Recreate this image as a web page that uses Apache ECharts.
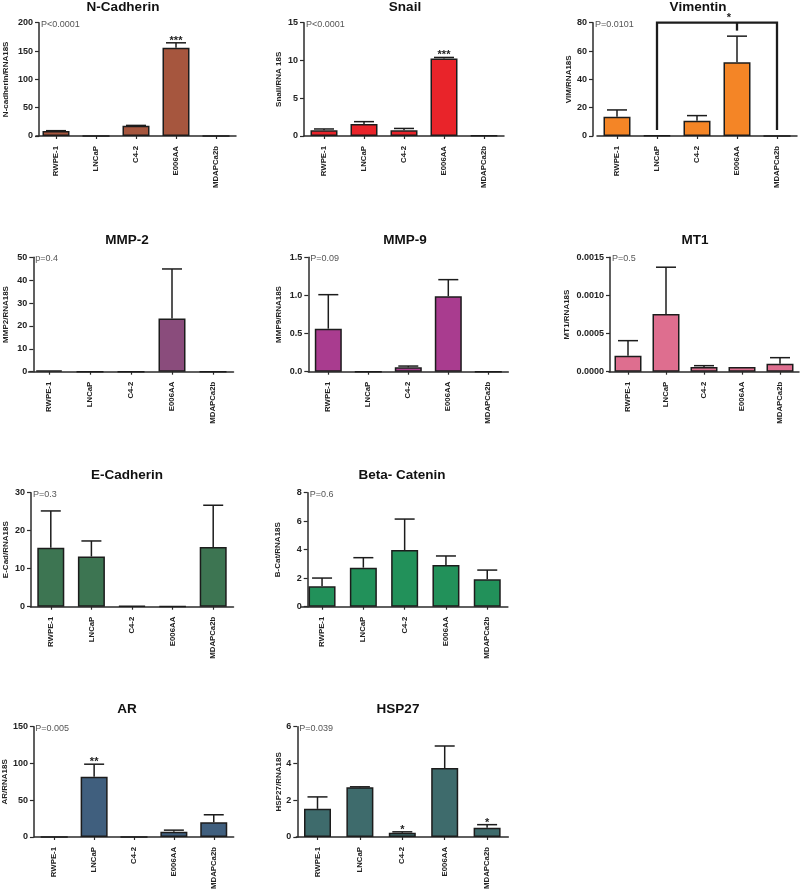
<!DOCTYPE html>
<html><head><meta charset="utf-8">
<script src="https://cdn.jsdelivr.net/npm/echarts@6/dist/echarts.min.js"></script>
<style>html,body{margin:0;padding:0;background:#fff}#c{width:800px;height:892px}</style>
</head><body><div id="c"></div>
<script>
const categories = ['RWPE-1', 'LNCaP', 'C4-2', 'E006AA', 'MDAPCa2b'];

const panelTitles = ['N-Cadherin', 'Snail', 'Vimentin', 'MMP-2', 'MMP-9', 'MT1', 'E-Cadherin', 'Beta- Catenin', 'AR', 'HSP27'];
const yAxisNames = ['N-cadherin/RNA18S', 'Snail/RNA 18S', 'VIM/RNA18S', 'MMP2/RNA18S', 'MMP9/RNA18S', 'MT1/RNA18S', 'E-Cad/RNA18S', 'B-Cat/RNA18S', 'AR/RNA18S', 'HSP27/RNA18S'];
const pValueTexts = ['P<0.0001', 'P<0.0001', 'P=0.0101', 'p=0.4', 'P=0.09', 'P=0.5', 'P=0.3', 'P=0.6', 'P=0.005', 'P=0.039'];
const yMaxValues = [200, 15, 80, 50, 1.5, 0.0015, 30, 8, 150, 6];
const yIntervals = [50, 5, 20, 10, 0.5, 0.0005, 10, 2, 50, 2];
const yDecimals = [0, 0, 0, 0, 1, 4, 0, 0, 0, 0];

const nCadherinMean = [8.8, 0, 18.2, 156, 0];
const nCadherinSem  = [0.6, 0, 0.5, 8.5, 0];
const snailMean = [0.75, 1.6, 0.75, 10.25, 0.05];
const snailSem  = [0.18, 0.3, 0.25, 0.15, 0];
const vimentinMean = [13.6, 0.3, 10.8, 52, 0];
const vimentinSem  = [4.8, 0, 3.6, 18.5, 0];
const mmp2Mean = [0.6, 0, 0, 23.2, 0];
const mmp2Sem  = [0, 0, 0, 21.7, 0];
const mmp9Mean = [0.564, 0, 0.057, 0.99, 0];
const mmp9Sem  = [0.446, 0, 0.017, 0.217, 0];
const mt1Mean = [0.00021, 0.000757, 0.000061, 0.000061, 0.000105];
const mt1Sem  = [0.000197, 0.000613, 0.000018, 0, 0.000079];
const eCadherinMean = [15.5, 13.2, 0.2, 0.1, 15.7];
const eCadherinSem  = [9.7, 4.1, 0, 0, 11];
const betaCateninMean = [1.43, 2.74, 3.98, 2.92, 1.92];
const betaCateninSem  = [0.58, 0.7, 2.17, 0.64, 0.65];
const arMean = [0, 82, 0, 7.1, 20];
const arSem  = [0, 17, 0, 2.2, 10.2];
const hsp27Mean = [1.53, 2.7, 0.23, 3.75, 0.5];
const hsp27Sem  = [0.65, 0.03, 0.05, 1.2, 0.17];

const nCadherinStars = ['', '', '', '***', ''];
const snailStars = ['', '', '', '***', ''];
const arStars = ['', '**', '', '', ''];
const hsp27Stars = ['', '', '*', '', '*'];
const noStars = ['', '', '', '', ''];

// Vimentin bracket: categories (left leg, middle leg, right leg) and levels (top, leg bottom, middle bottom, star)
const vimBracketCats = ['LNCaP', 'E006AA', 'MDAPCa2b'];
const vimBracketLevels = [80, 4.2, 74.4, 83];
const vimBracketStar = '*';

const barColors = ['#A6563E', '#E9242A', '#F48526', '#8A4C7C', '#A93C8F', '#DE6E8F', '#3D7552', '#22915A', '#405F7E', '#3E6B6C'];

const means = [nCadherinMean, snailMean, vimentinMean, mmp2Mean, mmp9Mean, mt1Mean, eCadherinMean, betaCateninMean, arMean, hsp27Mean];
const sems = [nCadherinSem, snailSem, vimentinSem, mmp2Sem, mmp9Sem, mt1Sem, eCadherinSem, betaCateninSem, arSem, hsp27Sem];
const stars = [nCadherinStars, snailStars, noStars, noStars, noStars, noStars, noStars, noStars, arStars, hsp27Stars];

// layout (pixels)
const layout = [
  {left: 36,    axisX: 39,    top: 22.7,  width: 200,   height: 113.3, nameGap: 29,   tx: 123, ty: 7.5},
  {left: 304,   axisX: 304,   top: 22.7,  width: 200,   height: 113.3, nameGap: 21.5, tx: 405, ty: 7.5},
  {left: 597,   axisX: 593,   top: 22.7,  width: 200,   height: 113.3, nameGap: 19.5, tx: 698, ty: 7.5},
  {left: 28.5,  axisX: 33.3,  top: 257.3, width: 205,   height: 114.4, nameGap: 23.5, tx: 127, ty: 240},
  {left: 308.3, axisX: 308.3, top: 257.3, width: 200,   height: 114.4, nameGap: 25.5, tx: 405, ty: 240},
  {left: 609,   axisX: 610,   top: 257.3, width: 190,   height: 114.4, nameGap: 39.5, tx: 695, ty: 240},
  {left: 30.5,  axisX: 31,    top: 492.7, width: 203,   height: 114,   nameGap: 21.5, tx: 127, ty: 475},
  {left: 301.4, axisX: 307.7, top: 492.7, width: 206.5, height: 114,   nameGap: 25.5, tx: 402, ty: 475},
  {left: 33.7,  axisX: 33.3,  top: 726.7, width: 200,   height: 112.6, nameGap: 23.5, tx: 127, ty: 709},
  {left: 296.3, axisX: 297.3, top: 726.7, width: 212,   height: 112.6, nameGap: 14.5, tx: 398, ty: 709}
];

function fontInstalled(name) {
  const ctx = document.createElement('canvas').getContext('2d');
  const probe = 'RWPE-1 MDAPCa2b E006AA';
  ctx.font = 'bold 20px monospace';
  const a = ctx.measureText(probe).width;
  ctx.font = 'bold 20px "' + name + '", monospace';
  return Math.abs(ctx.measureText(probe).width - a) > 0.5;
}
const FONT = '"Liberation Sans", Arial, Helvetica, sans-serif';
const hasNarrow = fontInstalled('Liberation Sans Narrow');
const NARROW = hasNarrow ? '"Liberation Sans Narrow", "Liberation Sans", sans-serif' : FONT;
const xLabelSize = hasNarrow ? 9.3 : 7.8;
const yNameSize = hasNarrow ? 9.3 : 8;
const AXIS_COLOR = '#2b2b2b';
const INK = '#1c1c1c';

const grids = [], xAxes = [], yAxes = [], series = [], graphics = [];

layout.forEach((l, i) => {
  grids.push({left: l.left, top: l.top, width: l.width, height: l.height});
  xAxes.push({
    gridIndex: i, type: 'category', data: categories,
    axisLine: {show: true, lineStyle: {color: AXIS_COLOR, width: 1.5}},
    axisTick: {show: true, alignWithLabel: true, length: 3, lineStyle: {color: AXIS_COLOR, width: 1.2}},
    axisLabel: {rotate: 90, fontSize: xLabelSize, fontWeight: 'bold', color: '#222', margin: 10, fontFamily: NARROW, interval: 0},
    splitLine: {show: false}
  });
  const dec = yDecimals[i];
  yAxes.push({
    gridIndex: i, type: 'value', min: 0, max: yMaxValues[i], interval: yIntervals[i],
    offset: l.left - l.axisX,
    axisLine: {show: true, lineStyle: {color: AXIS_COLOR, width: 1.5}},
    axisTick: {show: true, length: 4, lineStyle: {color: AXIS_COLOR, width: 1.2}},
    splitLine: {show: false},
    axisLabel: {fontSize: 9, fontWeight: 'bold', color: '#222', margin: 6, fontFamily: FONT,
      formatter: v => Number(v).toFixed(dec)},
    name: yAxisNames[i], nameLocation: 'middle', nameRotate: 90, nameGap: l.nameGap,
    nameTextStyle: {fontSize: yNameSize, fontWeight: 'bold', color: '#222', fontFamily: NARROW}
  });
  series.push({
    type: 'bar', xAxisIndex: i, yAxisIndex: i, data: means[i], barWidth: 27,
    itemStyle: {color: barColors[i], borderColor: INK, borderWidth: 1.5},
    silent: true, animation: false
  });
  const errData = means[i].map((m, k) => [k, m, m + sems[i][k]]).filter((d, k) => sems[i][k] > 0);
  series.push({
    type: 'custom', xAxisIndex: i, yAxisIndex: i, data: errData, z: 3, animation: false, silent: true,
    renderItem: (params, api) => {
      const lo = api.coord([api.value(0), api.value(1)]);
      const hi = api.coord([api.value(0), api.value(2)]);
      const cap = 10;
      return {type: 'group', children: [
        {type: 'line', shape: {x1: lo[0], y1: lo[1], x2: hi[0], y2: hi[1]}, style: {stroke: INK, lineWidth: 1.5}},
        {type: 'line', shape: {x1: hi[0] - cap, y1: hi[1], x2: hi[0] + cap, y2: hi[1]}, style: {stroke: INK, lineWidth: 1.5}}
      ]};
    }
  });
  const starTexts = [];
  const starData = [];
  stars[i].forEach((s, k) => { if (s) { starTexts.push(s); starData.push([k, means[i][k] + sems[i][k]]); } });
  if (starData.length) {
    series.push({
      type: 'custom', xAxisIndex: i, yAxisIndex: i, data: starData, z: 4, animation: false, silent: true, clip: false,
      renderItem: (params, api) => {
        const c = api.coord([api.value(0), api.value(1)]);
        return {type: 'text', x: c[0], y: c[1] - 2, style: {text: starTexts[params.dataIndex], align: 'center', verticalAlign: 'middle',
          fontSize: 11, fontWeight: 'bold', fontFamily: FONT, fill: '#222'}};
      }
    });
  }
  graphics.push({type: 'text', x: l.tx, y: l.ty, style: {text: panelTitles[i], align: 'center', verticalAlign: 'middle',
    fontSize: 13.5, fontWeight: 'bold', fontFamily: FONT, fill: '#111'}});
  graphics.push({type: 'text', x: l.axisX + 2, y: l.top + 1.5, style: {text: pValueTexts[i], align: 'left', verticalAlign: 'middle',
    fontSize: 9, fontFamily: FONT, fill: '#555'}});
});

// Vimentin significance bracket (panel index 2)
const vimIdx = 2;
const bi = vimBracketCats.map(c => categories.indexOf(c));
series.push({
  type: 'custom', xAxisIndex: vimIdx, yAxisIndex: vimIdx, data: [[bi[0], bi[1], bi[2]]], z: 5, clip: false, animation: false, silent: true,
  renderItem: (params, api) => {
    const [top, legBottom, midBottom, starLevel] = vimBracketLevels;
    const lTop = api.coord([api.value(0), top]), lBot = api.coord([api.value(0), legBottom]);
    const rTop = api.coord([api.value(2), top]), rBot = api.coord([api.value(2), legBottom]);
    const mTop = api.coord([api.value(1), top]), mBot = api.coord([api.value(1), midBottom]);
    const st = api.coord([api.value(1), starLevel]);
    const ls = {stroke: INK, lineWidth: 2.3};
    return {type: 'group', children: [
      {type: 'polyline', shape: {points: [lBot, lTop, rTop, rBot]}, style: Object.assign({fill: null}, ls)},
      {type: 'line', shape: {x1: mTop[0], y1: mTop[1], x2: mBot[0], y2: mBot[1]}, style: ls},
      {type: 'text', x: st[0] - 8, y: st[1], style: {text: vimBracketStar, align: 'center', verticalAlign: 'middle', fontSize: 11, fontWeight: 'bold', fontFamily: FONT, fill: '#222'}}
    ]};
  }
});

const chart = echarts.init(document.getElementById('c'), null, {renderer: 'canvas'});
chart.setOption({
  animation: false,
  backgroundColor: '#ffffff',
  grid: grids, xAxis: xAxes, yAxis: yAxes, series: series,
  graphic: graphics
});
</script>
</body></html>
